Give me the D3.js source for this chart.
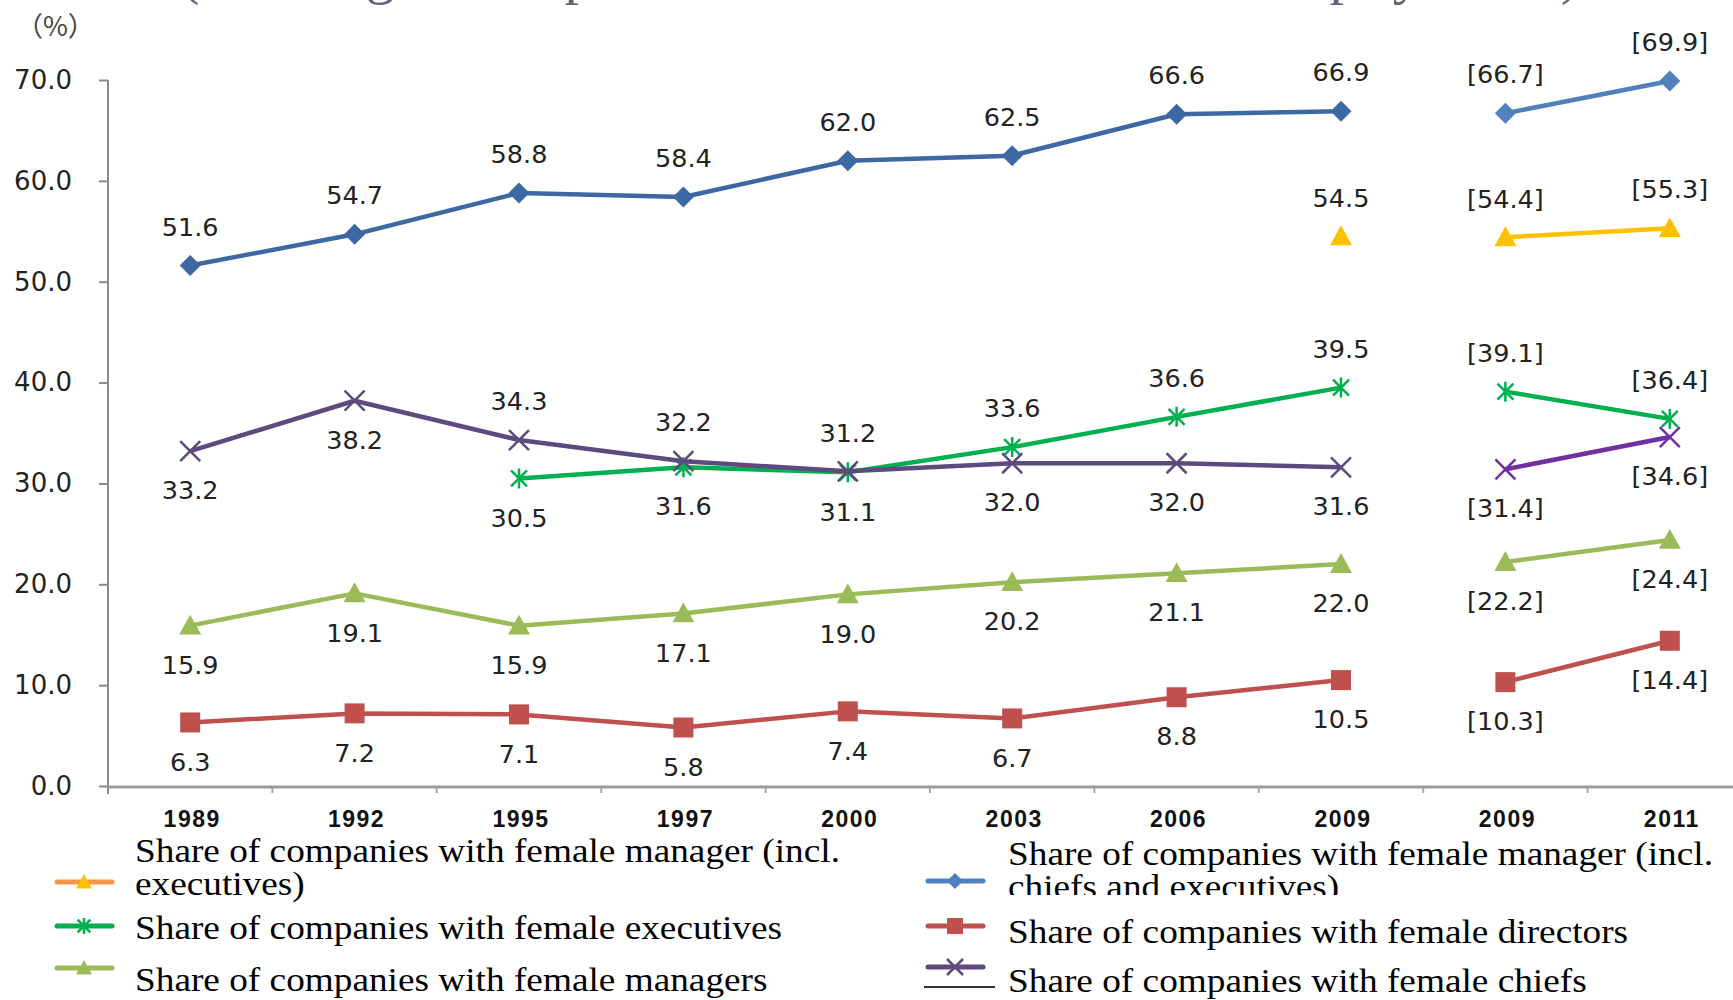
<!DOCTYPE html>
<html lang="en">
<head>
<meta charset="UTF-8">
<title>Share of companies with female managers</title>
<script src="https://cdn.jsdelivr.net/npm/d3@7/dist/d3.min.js"></script>
<style>
  body { margin: 0; background: #fff; }
  svg { display: block; }
</style>
</head>
<body>
<svg width="1733" height="1000" id="mainsvg"></svg>
<script>
// survey years (the second 2009 starts the revised survey)
const years = ['1989', '1992', '1995', '1997', '2000', '2003', '2006', '2009', '2009', '2011'];
const breakAt = 8;
const yTicks = [0, 10, 20, 30, 40, 50, 60, 70];

const mgrAll = [51.6, 54.7, 58.8, 58.4, 62.0, 62.5, 66.6, 66.9, 66.7, 69.9];
const mgrExec = [null, null, null, null, null, null, null, 54.5, 54.4, 55.3];
const executives = [null, null, 30.5, 31.6, 31.1, 33.6, 36.6, 39.5, 39.1, 36.4];
const managers = [15.9, 19.1, 15.9, 17.1, 19.0, 20.2, 21.1, 22.0, 22.2, 24.4];
const directors = [6.3, 7.2, 7.1, 5.8, 7.4, 6.7, 8.8, 10.5, 10.3, 14.4];
const chiefs = [33.2, 38.2, 34.3, 32.2, 31.2, 32.0, 32.0, 31.6, 31.4, 34.6];

// a = label above the point, b = below
const series = [
  { values: mgrAll, colors: ['#3C69A3', '#4F81BD'], marker: 'diamond', sides: 'aaaaaaaaaa' },
  { values: mgrExec, colors: ['#FFC000', '#FFC000'], marker: 'triangle', sides: 'aaaaaaaaaa' },
  { values: executives, colors: ['#00B050', '#00B050'], marker: 'star', sides: 'bbbbbaaaaa' },
  { values: managers, colors: ['#9BBB59', '#9BBB59'], marker: 'triangle', sides: 'bbbbbbbbbb' },
  { values: directors, colors: ['#C0504D', '#C0504D'], marker: 'square', sides: 'bbbbbbbbbb' },
  { values: chiefs, colors: ['#5E4A7E', '#7030A0'], marker: 'cross', sides: 'bbaaabbbbb' }
];

const svg = d3.select('#mainsvg');
const width = +svg.attr('width');

const x = d3.scalePoint().domain(d3.range(years.length)).range([108, 1752]).padding(0.5);
const y = d3.scaleLinear().domain([0, 70]).range([786, 80]);

// cut-off title at the very top
svg.append('text')
  .attr('x', 180).attr('y', -7)
  .attr('textLength', 1400).attr('lengthAdjust', 'spacing')
  .attr('font-family', 'Liberation Serif').attr('font-size', 58)
  .attr('fill', '#5d6679')
  .text('(Percentage of companies with female workers at each employer level)');

svg.append('text')
  .attr('x', 16).attr('y', 36)
  .attr('font-family', 'Noto Sans CJK JP').attr('font-size', 27)
  .attr('fill', '#444')
  .text('（%）');

// y axis
const yAxis = svg.append('g')
  .attr('transform', 'translate(108,0)')
  .call(d3.axisLeft(y).tickValues(yTicks).tickFormat(d3.format('.1f')).tickSize(9).tickSizeOuter(0));
yAxis.select('.domain').attr('stroke', '#8a8a8a').attr('stroke-width', 2)
  .attr('d', `M0,${y(70)}V${y(0) + 8}`);
yAxis.selectAll('.tick line').attr('stroke', '#8a8a8a').attr('stroke-width', 2);
yAxis.selectAll('.tick text')
  .attr('x', -36)
  .attr('font-family', 'DejaVu Sans').attr('font-size', 26)
  .attr('fill', '#222');

// x axis
svg.append('line')
  .attr('x1', 108).attr('x2', width)
  .attr('y1', y(0) + 1).attr('y2', y(0) + 1)
  .attr('stroke', '#9a9a9a').attr('stroke-width', 3);
svg.selectAll('.xminor').data(d3.range(years.length)).enter()
  .append('line')
  .attr('x1', d => x(d) + x.step() / 2).attr('x2', d => x(d) + x.step() / 2)
  .attr('y1', y(0) + 2).attr('y2', y(0) + 7)
  .attr('stroke', '#aaa').attr('stroke-width', 2);
svg.selectAll('.xlabel').data(years).enter()
  .append('text')
  .attr('x', (d, i) => x(i) + 2)
  .attr('y', 827)
  .attr('text-anchor', 'middle')
  .attr('font-family', 'Liberation Sans').attr('font-weight', 'bold')
  .attr('font-size', 23).attr('letter-spacing', 1.5)
  .attr('fill', '#111')
  .text(d => d);

// markers
function drawMarker(g, type, color, r) {
  if (type === 'diamond') {
    g.append('path').attr('d', `M0,${-r}L${r},0L0,${r}L${-r},0Z`).attr('fill', color);
  } else if (type === 'square') {
    g.append('rect').attr('x', -r).attr('y', -r).attr('width', 2 * r).attr('height', 2 * r).attr('fill', color);
  } else if (type === 'triangle') {
    g.append('path').attr('d', `M0,${-r}L${r},${r * 0.8}L${-r},${r * 0.8}Z`).attr('fill', color);
  } else if (type === 'cross') {
    g.append('path').attr('d', `M${-r},${-r}L${r},${r}M${-r},${r}L${r},${-r}`)
      .attr('stroke', color).attr('stroke-width', 2.5).attr('fill', 'none');
  } else if (type === 'star') {
    const k = r * 0.8;
    g.append('path').attr('d', `M${-k},${-k}L${k},${k}M${-k},${k}L${k},${-k}M0,${-r}L0,${r}`)
      .attr('stroke', color).attr('stroke-width', 2.5).attr('fill', 'none');
  }
}

const line = d3.line()
  .defined(d => d.v !== null)
  .x(d => x(d.i))
  .y(d => y(d.v));

const fmt = d3.format('.1f');
const markerR = { diamond: 10.5, square: 10, triangle: 11, cross: 10, star: 10 };

series.forEach(s => {
  const pts = s.values.map((v, i) => ({ v, i }));
  const parts = [pts.slice(0, breakAt), pts.slice(breakAt)];
  parts.forEach((part, p) => {
    svg.append('path')
      .datum(part)
      .attr('d', line)
      .attr('fill', 'none')
      .attr('stroke', s.colors[p])
      .attr('stroke-width', 4.5)
      .attr('stroke-linejoin', 'round');
  });
  const marks = svg.append('g').selectAll('g').data(pts.filter(d => d.v !== null)).enter()
    .append('g')
    .attr('transform', d => `translate(${x(d.i)},${y(d.v)})`);
  marks.each(function (d) {
    drawMarker(d3.select(this), s.marker, s.colors[d.i < breakAt ? 0 : 1], markerR[s.marker]);
  });
  svg.append('g').selectAll('text').data(pts.filter(d => d.v !== null)).enter()
    .append('text')
    .attr('x', d => x(d.i))
    .attr('y', d => y(d.v) + (s.sides[d.i] === 'a' ? -39 : 39))
    .attr('dy', '0.36em')
    .attr('text-anchor', 'middle')
    .attr('font-family', 'DejaVu Sans').attr('font-size', 25.5)
    .attr('fill', '#222')
    .text(d => d.i < breakAt ? fmt(d.v) : `[${fmt(d.v)}]`);
});

// legend
const legendItems = [
  { lines: ['Share of companies with female manager (incl.', 'executives)'], line: '#F79646', fill: '#FFC000', marker: 'triangle', col: 0, row: 0 },
  { lines: ['Share of companies with female executives'], line: '#00B050', fill: '#00B050', marker: 'star', col: 0, row: 1 },
  { lines: ['Share of companies with female managers'], line: '#9BBB59', fill: '#9BBB59', marker: 'triangle', col: 0, row: 2 },
  { lines: ['Share of companies with female manager (incl.', 'chiefs and executives)'], line: '#4F81BD', fill: '#4F81BD', marker: 'diamond', col: 1, row: 0 },
  { lines: ['Share of companies with female directors'], line: '#C0504D', fill: '#C0504D', marker: 'square', col: 1, row: 1 },
  { lines: ['Share of companies with female chiefs'], line: '#604A7B', fill: '#604A7B', marker: 'cross', col: 1, row: 2 }
];
const colX = [57, 928];
const textX = [135, 1008];
const symY = [[882, 926, 968], [881, 926, 967]];
const textY = [[862, 939, 991], [865, 943, 992]];

const legend = svg.append('g');
legendItems.forEach(item => {
  const g = legend.append('g');
  if (item.col === 1 && item.row === 1) {
    // the directors box hides the bottom of the line above
    g.append('rect').attr('x', 1000).attr('y', 895).attr('width', 733).attr('height', 20).attr('fill', '#fff');
  }
  g.append('line')
    .attr('x1', colX[item.col]).attr('x2', colX[item.col] + 55)
    .attr('y1', symY[item.col][item.row]).attr('y2', symY[item.col][item.row])
    .attr('stroke', item.line).attr('stroke-width', 5).attr('stroke-linecap', 'round');
  const m = g.append('g').attr('transform', `translate(${colX[item.col] + 27},${symY[item.col][item.row]})`);
  drawMarker(m, item.marker, item.fill, 8);
  item.lines.forEach((t, k) => {
    g.append('text')
      .attr('transform', `translate(${textX[item.col]},${textY[item.col][item.row] + k * 33}) scale(1.13,1)`)
      .attr('font-family', 'Liberation Serif').attr('font-size', 33)
      .attr('fill', '#000')
      .text(t);
  });
});
legend.append('line')
  .attr('x1', 924).attr('x2', 995).attr('y1', 987).attr('y2', 987)
  .attr('stroke', '#333').attr('stroke-width', 2);
</script>
</body>
</html>
